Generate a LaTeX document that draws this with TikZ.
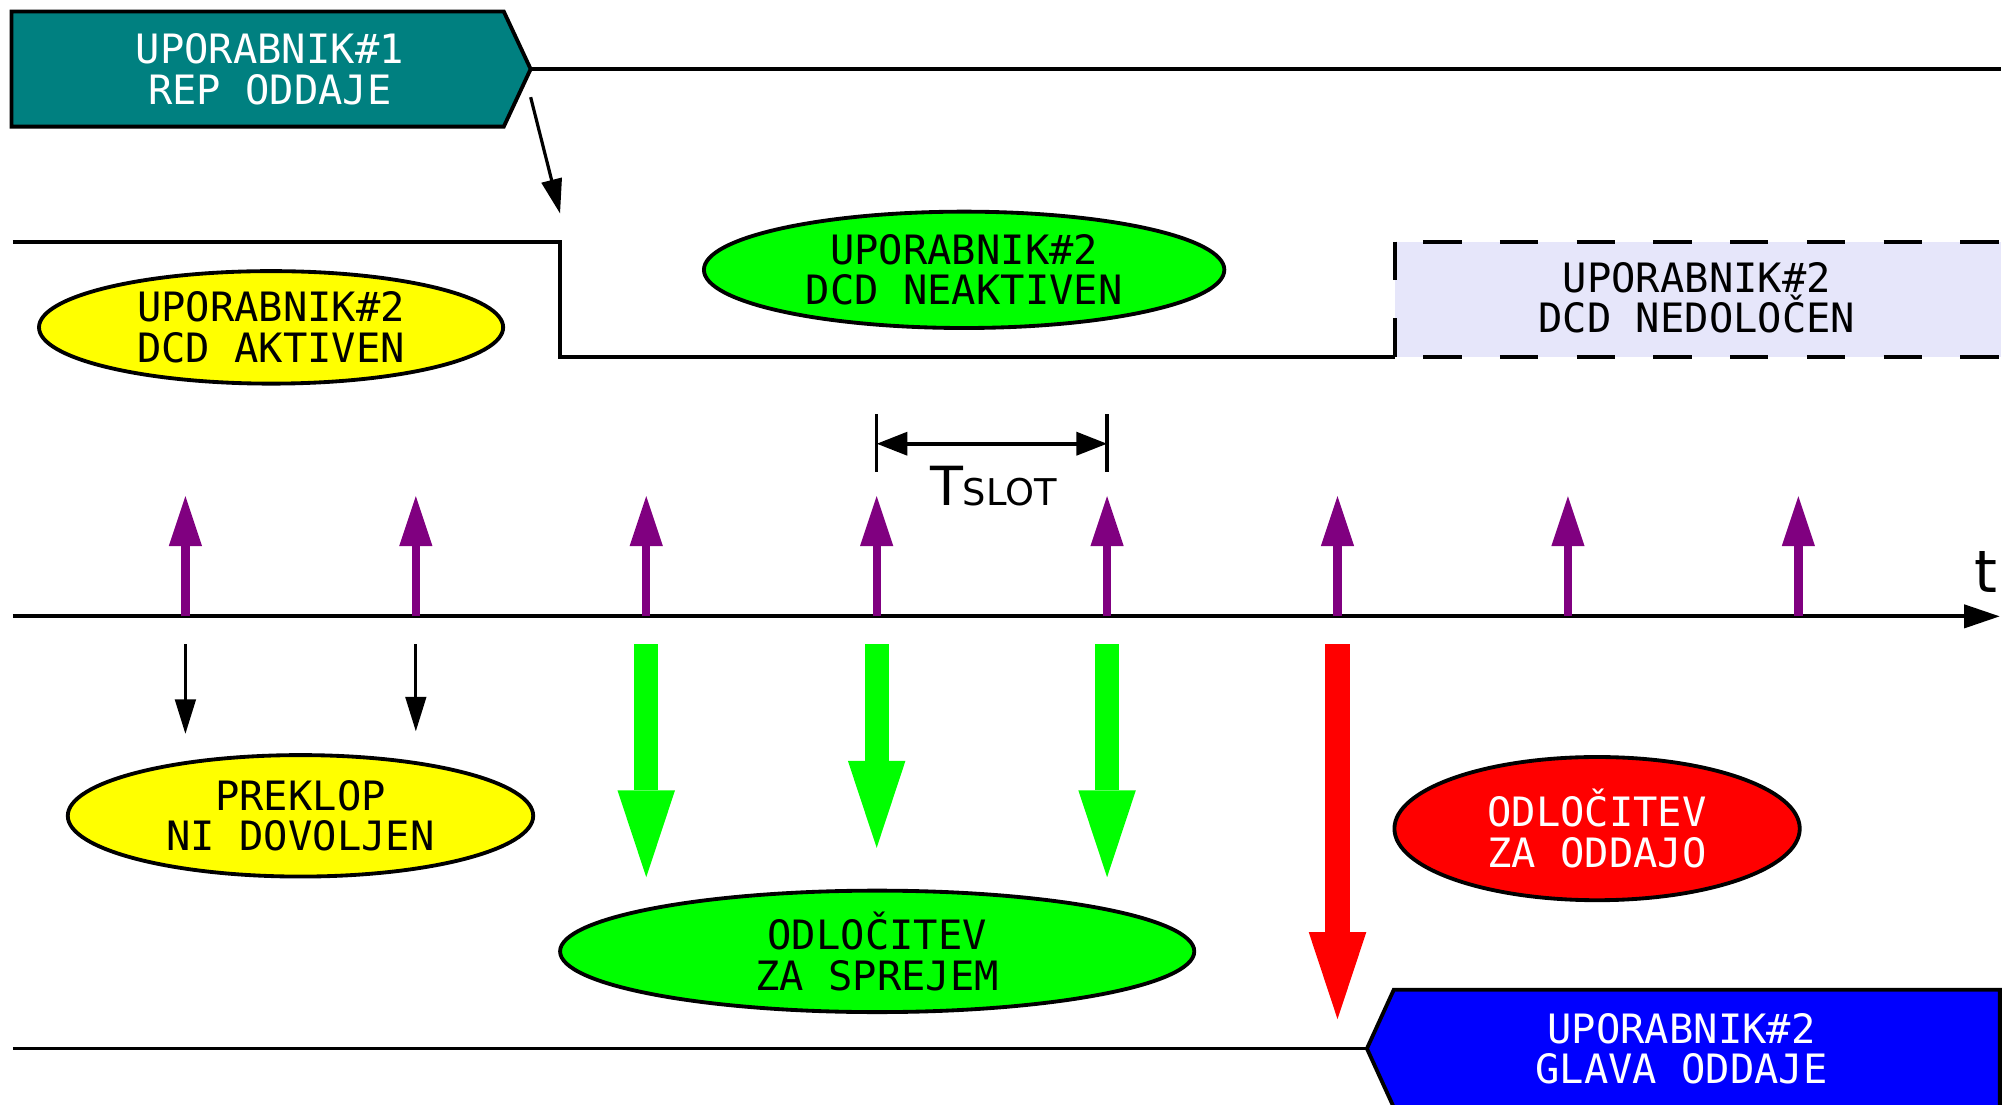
\documentclass[tikz,border=0pt]{standalone}
\usepackage{fontspec}
\setsansfont{DejaVu Sans}
\setmonofont{DejaVu Sans Mono}
\usetikzlibrary{arrows.meta,shapes.geometric}

\definecolor{repteal}{RGB}{0,128,128}
\definecolor{vijolicna}{RGB}{128,0,128}
\definecolor{zelenabarva}{RGB}{0,255,0}
\definecolor{rdecabarva}{RGB}{255,0,0}
\definecolor{modrabarva}{RGB}{0,0,255}
\definecolor{rumenabarva}{RGB}{255,255,0}
\definecolor{sivkasta}{RGB}{230,230,250}

\tikzset{
  napis/.style={font=\ttfamily\fontsize{9}{9}\selectfont, align=center, inner sep=0pt},
  stanje/.style={ellipse, draw=black, line width=0.3mm, napis},
  signal/.style={line width=0.3mm},
  crtkano/.style={signal, dash pattern=on 3mm off 3mm},
  tanka/.style={line width=0.25mm, -{Triangle[width=1.6mm,length=2.7mm]}},
  slotpusc/.style={draw=vijolicna, line width=0.65mm, -{Triangle[width=2.6mm,length=3.9mm,line width=0pt]}},
  odlocitev/.style={line width=1.9mm, -{Triangle[width=4.5mm,length=6.8mm,line width=0pt]}},
  zelenapusc/.style={odlocitev, draw=zelenabarva},
  rdecapusc/.style={odlocitev, draw=rdecabarva},
}

\begin{document}
\begin{tikzpicture}[x=0.1mm, y=-0.1mm]
  \useasboundingbox (0,0) rectangle (1568,864);
  % Definicije
  \def\dx{180.2}
  \def\xnic{145}
  % Uporabnik 1 - rep oddaje
  \coordinate (rep1) at (415,54);
  \filldraw[fill=repteal, line width=0.3mm] (9,9) -- (394,9) -- (rep1) -- (394,99) -- (9,99) -- cycle;
  \node[napis, text=white] (rep1txt) at (211,54) {UPORABNIK\#1\\REP ODDAJE};
  \draw[signal] (rep1) -- (1565,54);
  \coordinate (prehodA) at (415,76);
  \coordinate (prehodB) at (438,167);
  \draw[tanka] (prehodA) -- (prehodB);
  % DCD uporabnika 2
  \draw[signal] (10,189) -- (438,189) -- (438,279) -- (1091,279);
  \fill[sivkasta] (1091,189) rectangle (1565,279);
  \draw[crtkano] (1091,189) -- (1091,279);
  \draw[crtkano, dash phase=3.8mm] (1091,189) -- (1565,189);
  \draw[crtkano, dash phase=3.8mm] (1091,279) -- (1565,279);
  \node[stanje, fill=rumenabarva, minimum width=36.3mm, minimum height=8.8mm] (aktiven) at (212,256) {UPORABNIK\#2\\DCD AKTIVEN};
  \node[stanje, fill=zelenabarva, minimum width=40.7mm, minimum height=9.1mm] (neaktiven) at (754,211) {UPORABNIK\#2\\DCD NEAKTIVEN};
  \node[napis] (nedolocen) at (1327,233) {UPORABNIK\#2\\DCD NEDOLOČEN};
  % T_slot
  \coordinate (tsL) at (685.6,347);
  \coordinate (tsR) at (865.8,347);
  \foreach \c in {tsL,tsR} {
    \draw[line width=0.28mm] (\c) ++(0,-23) -- ++(0,45);
  }
  \draw[line width=0.28mm, {Triangle[width=1.8mm,length=2.4mm]}-{Triangle[width=1.8mm,length=2.4mm]}] (tsL) -- (tsR);
  \node[font=\sffamily, inner sep=0pt, anchor=base] (tslot) at (777,395) {{\fontsize{12}{12}\selectfont T}{\fontsize{8.2}{8.2}\selectfont SLOT}};
  % Casovna os
  \coordinate (t0) at (10,482);
  \coordinate (tk) at (1564,482);
  \draw[line width=0.32mm, -{Triangle[width=1.8mm,length=2.8mm]}] (t0) -- (tk);
  \node[font=\sffamily\fontsize{13}{13}\selectfont, inner sep=0pt, anchor=base] (tlab) at (1553,463) {t};
  % Casovne reze
  \foreach \i in {0,...,7} {
    \pgfmathsetmacro{\xs}{\xnic+\i*\dx}
    \coordinate (s\i) at (\xs,482);
    \coordinate (v\i) at (\xs,388);
    \draw[slotpusc] (s\i) -- (v\i);
  }
  % Odlocitve v rezah
  \foreach \i/\yk/\stil in {0/574/tanka, 1/572/tanka, 2/686/zelenapusc, 3/663/zelenapusc, 4/686/zelenapusc, 5/797/rdecapusc} {
    \pgfmathsetmacro{\xs}{\xnic+\i*\dx}
    \coordinate (d\i) at (\xs,504);
    \coordinate (e\i) at (\xs,\yk);
    \draw[\stil] (d\i) -- (e\i);
  }
  \node[stanje, fill=rumenabarva, minimum width=36.4mm, minimum height=9.5mm] (preklop) at (235,638) {PREKLOP\\NI DOVOLJEN};
  \node[stanje, fill=zelenabarva, minimum width=49.6mm, minimum height=9.5mm] (sprejem) at (686,744) {ODLOČITEV\\ZA SPREJEM};
  \node[stanje, fill=rdecabarva, text=white, minimum width=31.7mm, minimum height=11.2mm] (oddaja) at (1249,648) {ODLOČITEV\\ZA ODDAJO};
  % Uporabnik 2 - glava oddaje
  \coordinate (glava) at (1069,820);
  \draw[signal] (10,820) -- (glava);
  \filldraw[fill=modrabarva, line width=0.3mm] (1564,774) -- (1090,774) -- (glava) -- (1090,866) -- (1564,866) -- cycle;
  \node[napis, text=white] (glava2) at (1315,820) {UPORABNIK\#2\\GLAVA ODDAJE};
\end{tikzpicture}
\end{document}
